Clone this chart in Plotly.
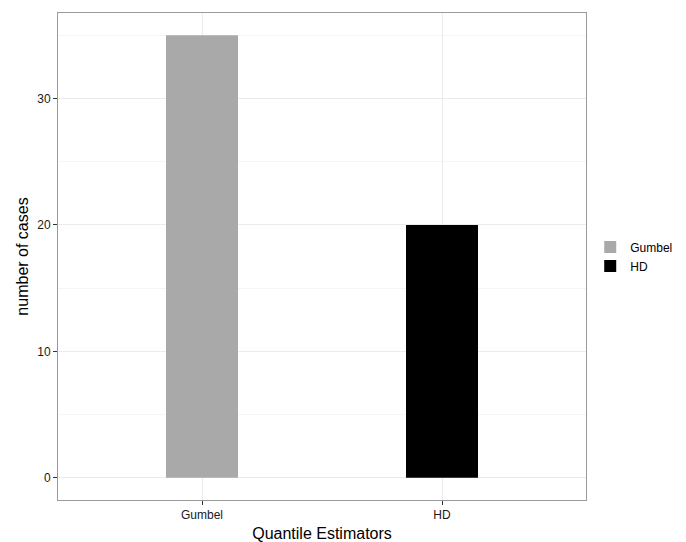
import plotly.graph_objects as go

categories = ["Gumbel", "HD"]
counts = [35, 20]
colors = ["#A9A9A9", "#000000"]
y_ticks = [0, 10, 20, 30]

fig = go.Figure()
for cat, val, col in zip(categories, counts, colors):
    fig.add_trace(go.Bar(
        x=[cat], y=[val], name=cat, width=0.3,
        marker=dict(color=col, line=dict(width=0)),
    ))

# page body has an 8px margin, so the figure is sized to fit inside the window
fig.update_layout(
    width=678, height=534,
    margin=dict(l=50, r=100, t=5, b=42, autoexpand=False),
    plot_bgcolor="white", paper_bgcolor="white",
    font=dict(family="Liberation Sans, Arial, sans-serif", color="#222222"),
    barmode="overlay",
    legend=dict(x=1.008, y=0.5, yanchor="middle", xanchor="left",
                font=dict(size=12, color="#000000"), tracegroupgap=0,
                itemwidth=30, borderwidth=0),
    xaxis=dict(
        type="category", categoryorder="array", categoryarray=categories,
        range=[-0.6, 1.6], automargin=False,
        showgrid=True, gridcolor="#EBEBEB", gridwidth=1,
        ticks="outside", ticklen=4, tickcolor="#333333",
        tickfont=dict(size=12, color="#1a1a1a"),
        title=dict(text="Quantile Estimators", font=dict(size=16, color="#000000"), standoff=6),
        showline=True, linecolor="#9a9a9a", linewidth=1, mirror=True,
        zeroline=False,
    ),
    yaxis=dict(
        range=[-1.75, 36.75], automargin=False,
        tickvals=y_ticks,
        showgrid=True, gridcolor="#EBEBEB", gridwidth=1,
        minor=dict(dtick=5, tick0=5, showgrid=True, gridcolor="#F5F5F5", gridwidth=1),
        ticks="outside", ticklen=4, tickcolor="#333333",
        tickfont=dict(size=12, color="#1a1a1a"),
        title=dict(text="number of cases", font=dict(size=16, color="#000000"), standoff=4),
        showline=True, linecolor="#9a9a9a", linewidth=1, mirror=True,
        zeroline=False,
    ),
)

fig.write_html("out.html")
